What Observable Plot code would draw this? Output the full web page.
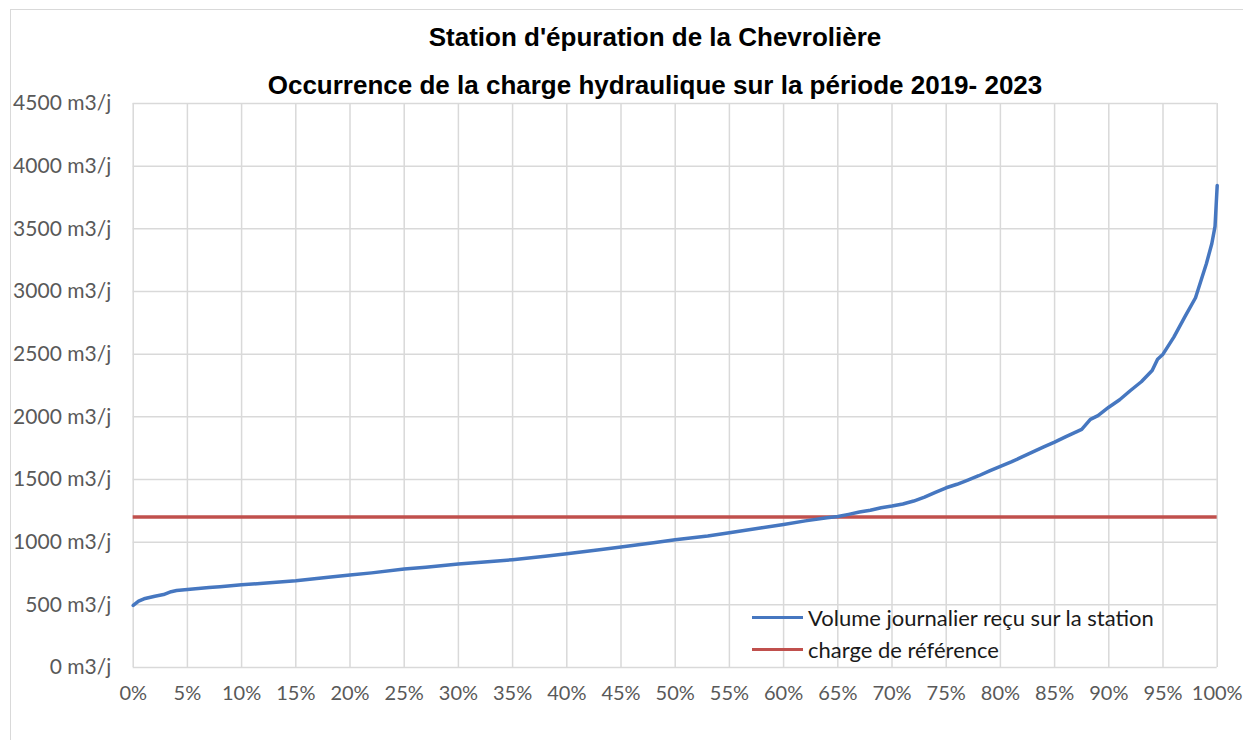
<!DOCTYPE html>
<html>
<head>
<meta charset="utf-8">
<script src="https://cdn.jsdelivr.net/npm/d3@7"></script>
<script src="https://cdn.jsdelivr.net/npm/@observablehq/plot@0.6"></script>
<style>
  html, body { margin: 0; padding: 0; background: #fff; overflow: hidden; }
  #wrap { position: relative; width: 1243px; height: 740px; overflow: hidden; }
  #frame { position: absolute; left: 10px; top: 9px; width: 1300px; height: 800px; border: 1.5px solid #d9d9d9; box-sizing: border-box; }
  .title { position: absolute; left: 0; width: 1310px; text-align: center; font-family: "Liberation Sans", Arial, sans-serif; font-weight: bold; font-size: 26px; line-height: 30px; color: #000; }
  #chart { position: absolute; left: 0; top: 90px; }
  #legend { position: absolute; left: 752px; top: 601px; font-family: Lato, sans-serif; font-size: 22px; color: #1a1a1a; }
  .item { display: flex; align-items: center; height: 32px; }
  .sw { width: 51px; height: 0; border-top: 3.5px solid; margin-right: 5px; }
</style>
</head>
<body>
<div id="wrap">
  <div id="frame"></div>
  <div class="title" style="top:22px">Station d'épuration de la Chevrolière</div>
  <div class="title" style="top:70px">Occurrence de la charge hydraulique sur la période 2019- 2023</div>
  <div id="chart"></div>
  <div id="legend"></div>
</div>
<script>
// Occurrence (% of days) and daily volume (m3/j)
const occurrence = [0,0.5,1,2,2.8,3.5,4,5,6,7,8,10,12,15,18,20,22,25,27,30,33,35,38,40,43,45,48,50,53,55,58,60,62,64,65,66,67,68,69,70,71,72,73,74,75,76,77,78,79,80,81,82,83,84,85,86,87,87.5,88.3,89,90,91,92,93,94,94.5,95,96,97,98,99,99.5,99.8,100];
const volume = [495,529,548,569,582,605,614,622,630,638,645,660,672,692,720,738,755,785,800,825,845,860,888,908,940,962,995,1020,1050,1075,1115,1141,1170,1195,1205,1222,1240,1255,1275,1288,1305,1328,1360,1398,1434,1462,1495,1530,1568,1604,1640,1680,1720,1760,1798,1840,1880,1900,1980,2010,2077,2136,2210,2280,2370,2460,2500,2636,2795,2950,3221,3381,3520,3846];
const referenceLoad = [1200];
const yTicks = [0,500,1000,1500,2000,2500,3000,3500,4000,4500];
const xTicks = [0,5,10,15,20,25,30,35,40,45,50,55,60,65,70,75,80,85,90,95,100];
const seriesNames = ["Volume journalier reçu sur la station", "charge de référence"];
const seriesColors = ["#4677c0", "#c0504d"];

const data = occurrence.map((p, i) => ({p, v: volume[i]}));

const chart = Plot.plot({
  width: 1243,
  height: 640,
  marginTop: 13,
  marginBottom: 63,
  marginLeft: 132.7,
  marginRight: 26.3,
  style: { fontFamily: "Lato, sans-serif", fontSize: "19.5px", background: "transparent" },
  x: { domain: [0, 100] },
  y: { domain: [0, 4500] },
  marks: [
    Plot.ruleX(xTicks, { stroke: "#d9d9d9", strokeWidth: 1.5 }),
    Plot.ruleY(yTicks, { stroke: "#d9d9d9", strokeWidth: 1.5 }),
    Plot.axisX({ ticks: xTicks, tickSize: 0, tickPadding: 18.5, tickFormat: d => d + "%", label: null, fill: "#595959", fontSize: 20 }),
    Plot.axisY({ ticks: yTicks, tickSize: 0, tickPadding: 22, tickFormat: d => d + " m3/j", label: null, fill: "#595959", fontSize: 21 }),
    Plot.ruleY(referenceLoad, { stroke: seriesColors[1], strokeWidth: 3.5 }),
    Plot.line(data, { x: "p", y: "v", stroke: seriesColors[0], strokeWidth: 3.5, curve: "linear" })
  ]
});
document.getElementById("chart").appendChild(chart);

const legend = document.getElementById("legend");
seriesNames.forEach((name, i) => {
  const item = document.createElement("div");
  item.className = "item";
  const sw = document.createElement("span");
  sw.className = "sw";
  sw.style.borderTopColor = seriesColors[i];
  const label = document.createElement("span");
  label.textContent = name;
  item.appendChild(sw);
  item.appendChild(label);
  legend.appendChild(item);
});
</script>
</body>
</html>
